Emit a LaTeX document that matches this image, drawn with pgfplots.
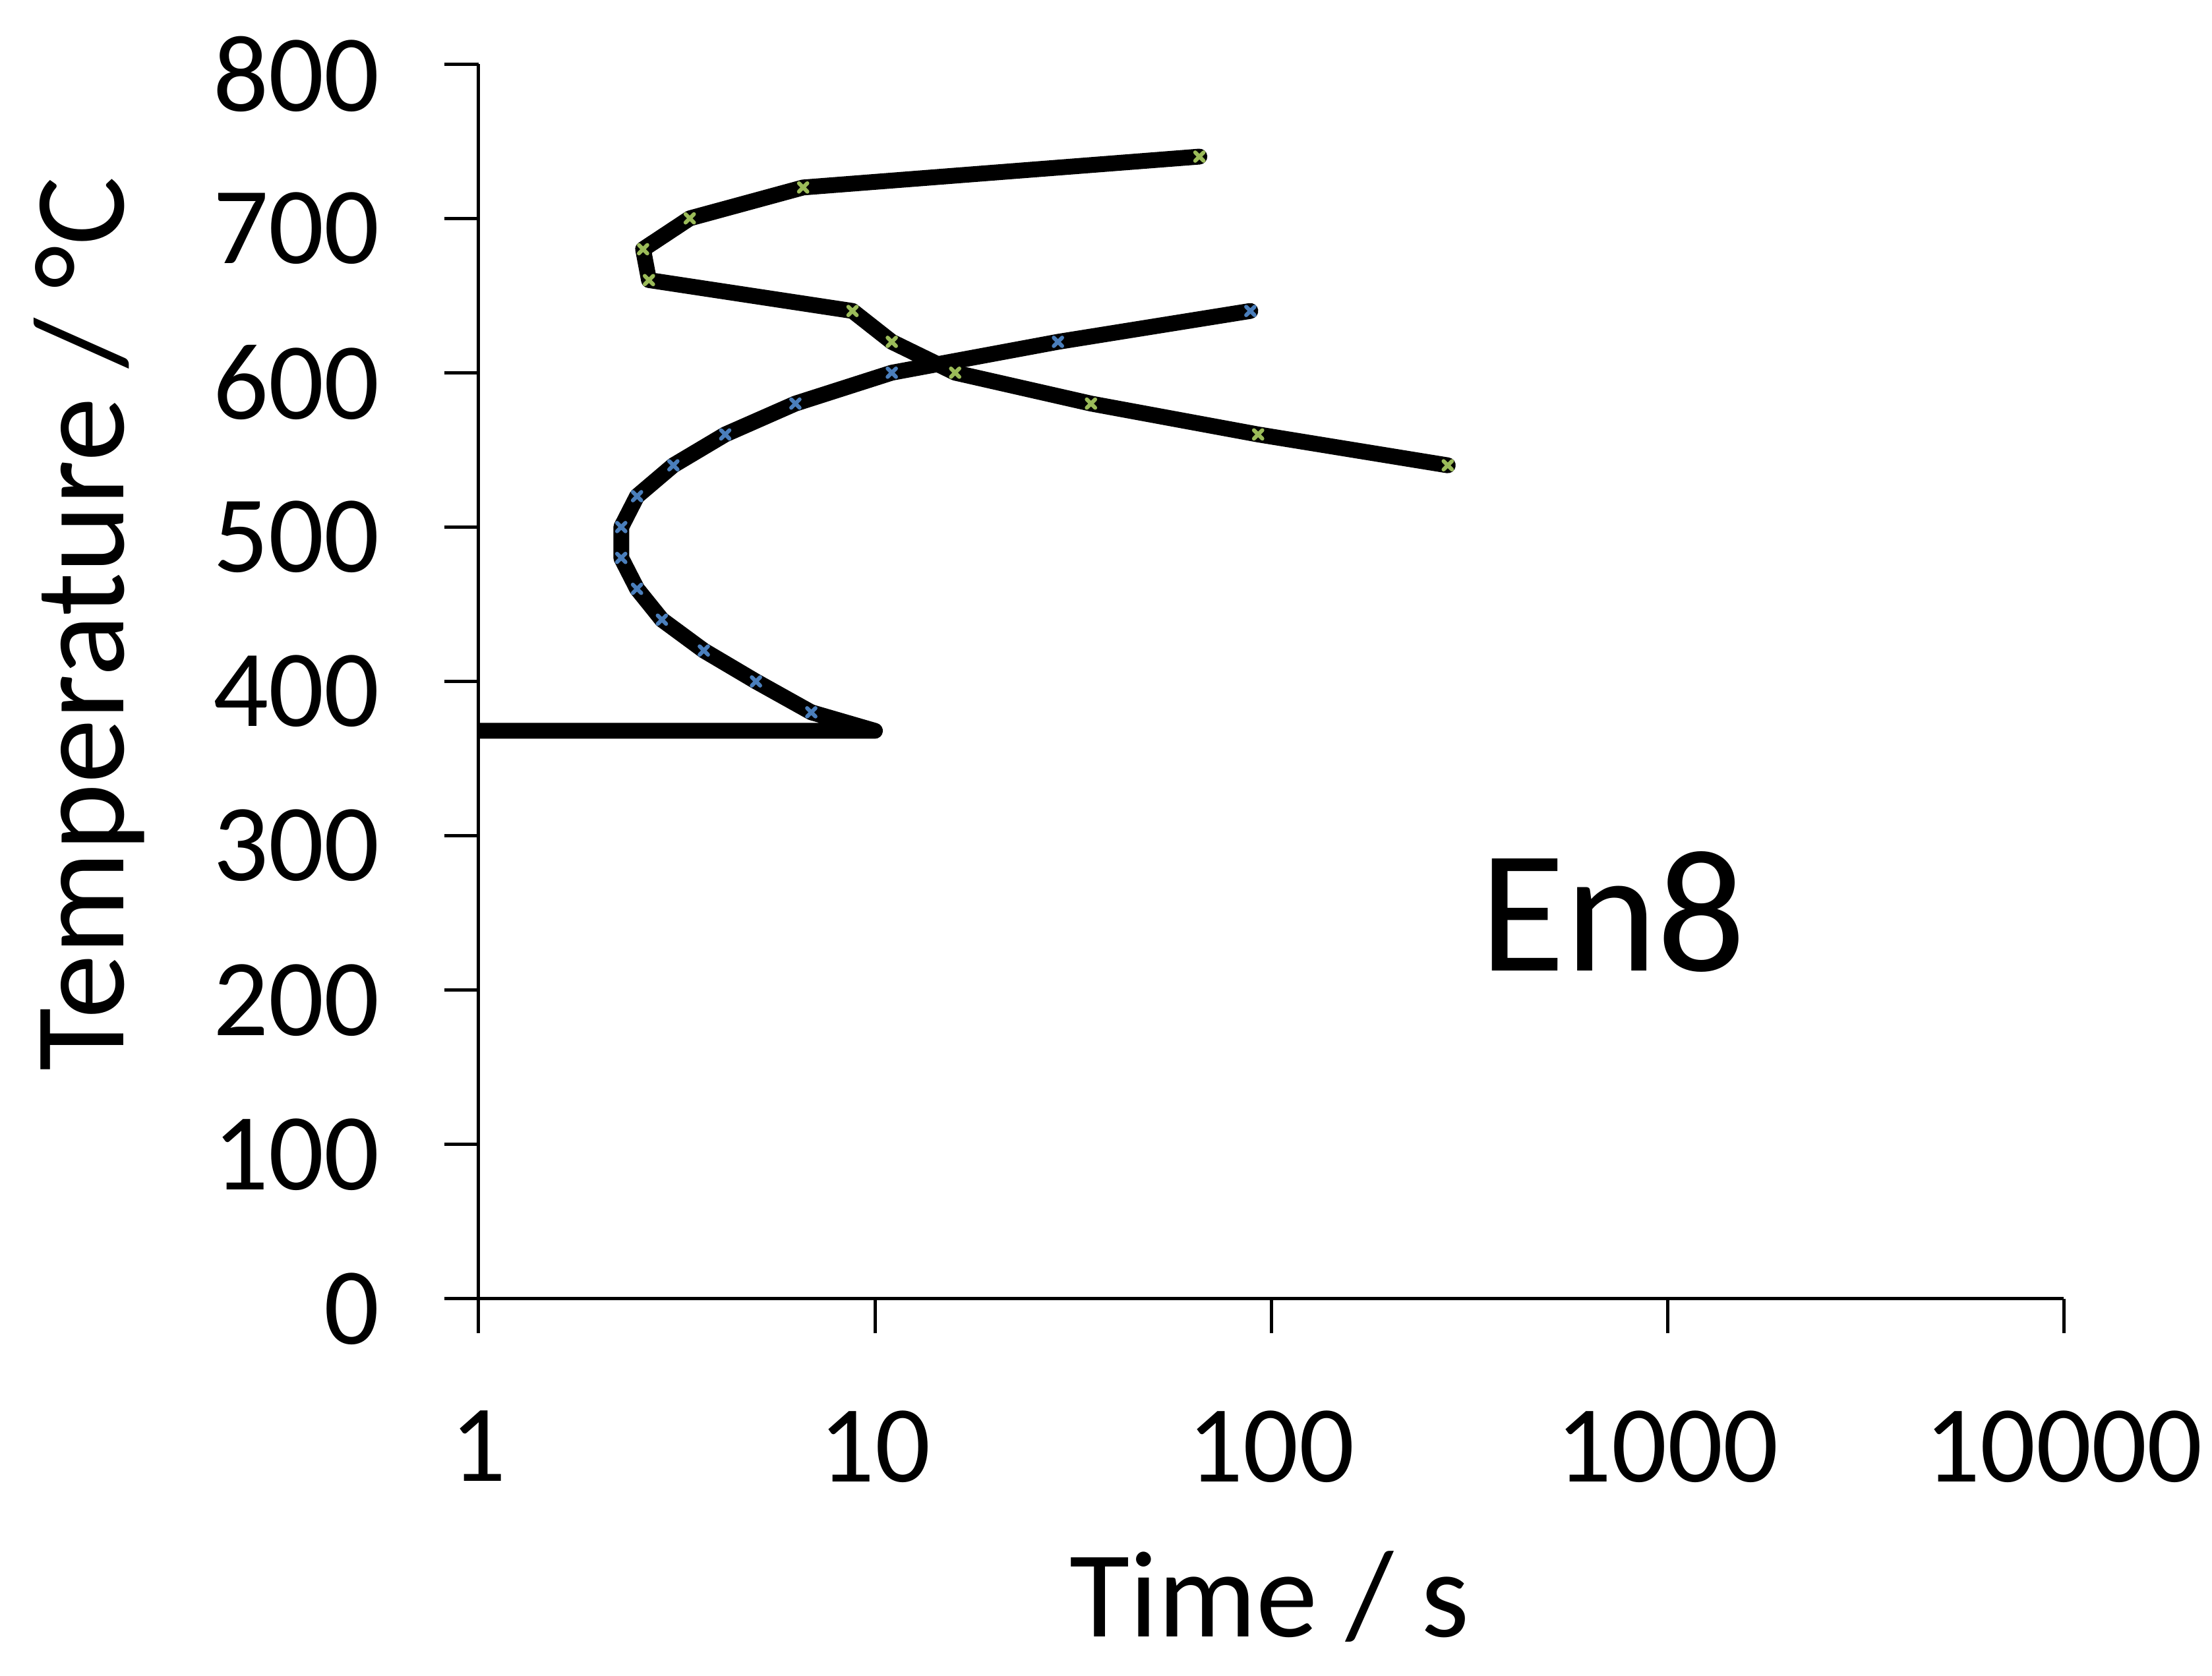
\documentclass[border=0pt]{standalone}
\usepackage{fontspec}
\setmainfont{Carlito}
\usepackage{pgfplots}
\pgfplotsset{compat=1.18}
\definecolor{xlblue}{RGB}{74,126,187}
\definecolor{xlgreen}{RGB}{155,187,89}
\begin{document}
\begin{tikzpicture}
\useasboundingbox (0,0) rectangle (335.5pt,254.2pt);
\begin{axis}[
  at={(72.6pt,57.2pt)}, anchor=south west,
  scale only axis, width=240.4pt, height=187.3pt,
  xmode=log, xmin=1, xmax=10000, ymin=0, ymax=800,
  axis lines=left, axis line style={black, line width=0.5pt, -},
  tick align=outside, major tick length=5.2pt,
  tick style={black, line width=0.5pt},
  xminorticks=false,
  xtick={1,10,100,1000,10000},
  xticklabels={1,10,100,1000,10000},
  ytick={0,100,...,800},
  /pgf/number format/assume math mode=true,
  ticklabel style={font=\fontsize{16.6}{19}\selectfont},
  yticklabel style={anchor=east, inner sep=0pt, xshift=-9.6pt, yshift=-1.5pt},
  xticklabel style={anchor=north, inner sep=0pt, yshift=-11.6pt},
  xlabel={Time / s},
  xlabel style={font=\fontsize{18.7}{22}\selectfont, at={(axis description cs:0.499,-0.2739)}, anchor=base},
  ylabel={Temperature / °C},
  ylabel style={font=\fontsize{19.6}{23}\selectfont, at={(axis description cs:-0.2242,0.5467)}, anchor=base},
]
% horizontal line (Ms) and link to the lower curve
\addplot[black, line width=2.4pt, line cap=round, line join=round] coordinates {
  (0.9,368) (10,368) (6.91,380)
};
% lower curve (blue markers)
\addplot[black, line width=2.4pt, line cap=round, line join=round,
  mark=x, mark size=0.9pt, mark options={xlblue, line width=0.6pt}] coordinates {
  (6.91,380) (5.01,400) (3.70,420) (2.90,440) (2.51,460) (2.29,480)
  (2.29,500) (2.51,520) (3.10,540) (4.19,560) (6.30,580) (11.03,600)
  (28.97,620) (88.6,640)
};
% upper curve (green markers)
\addplot[black, line width=2.4pt, line cap=round, line join=round,
  mark=x, mark size=0.9pt, mark options={xlgreen, line width=0.6pt}] coordinates {
  (65.9,740) (6.59,720) (3.41,700) (2.60,680) (2.69,660) (8.78,640)
  (11.03,620) (15.94,600) (35.1,580) (92.7,560) (279,540)
};
\node[anchor=base, font=\fontsize{26.5}{31}\selectfont] at (axis cs:728,212.7) {En8};
\end{axis}
\end{tikzpicture}
\end{document}
